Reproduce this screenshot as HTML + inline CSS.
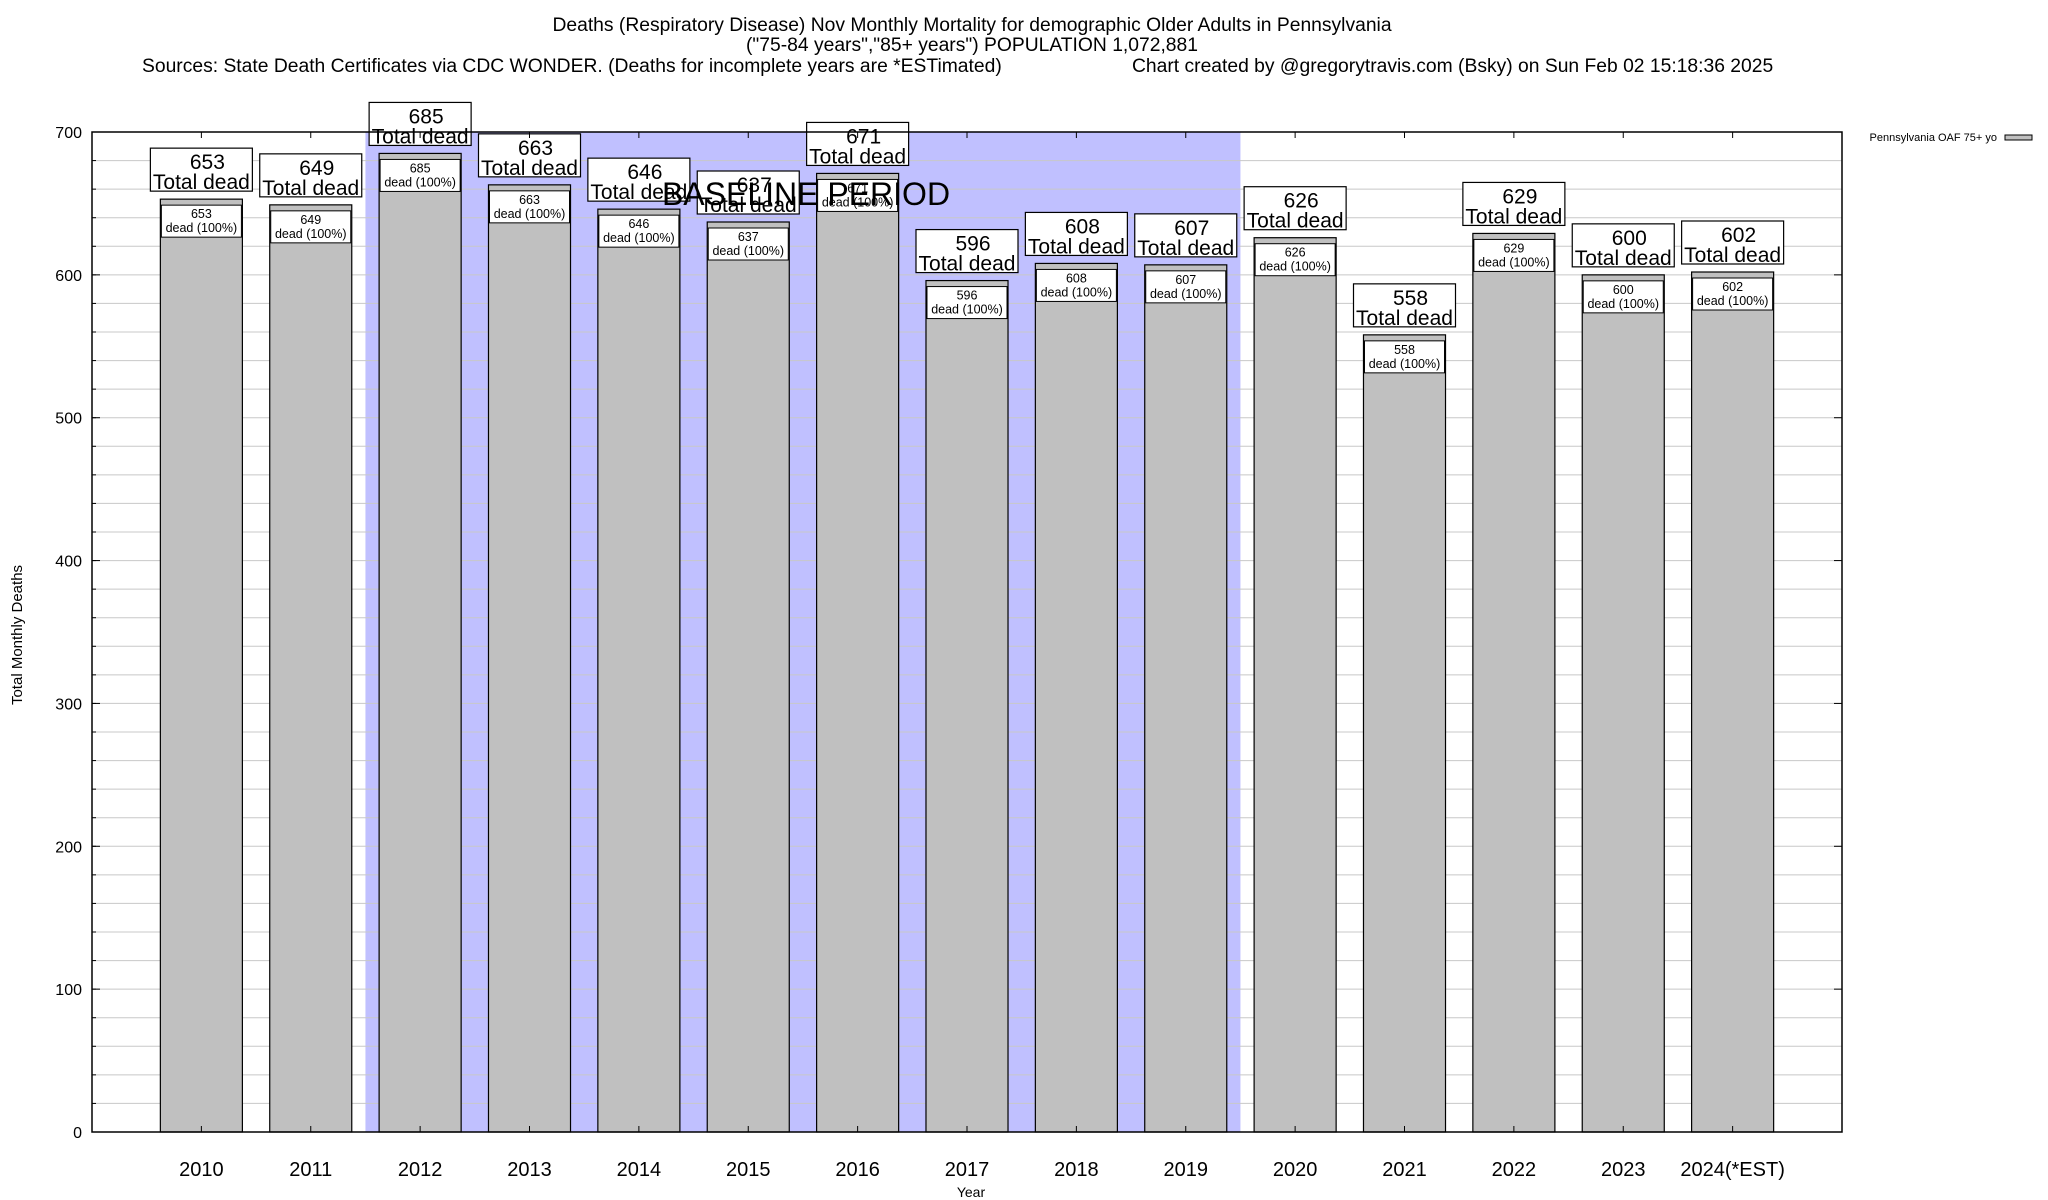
<!DOCTYPE html>
<html><head><meta charset="utf-8"><style>
html,body{margin:0;padding:0;background:#fff}
svg{display:block;font-family:"Liberation Sans",Arial,sans-serif}
</style></head><body>
<svg id="chart" width="2048" height="1200" viewBox="0 0 2048 1200" xmlns="http://www.w3.org/2000/svg">
<rect width="2048" height="1200" fill="#fff"/>
<g font-size="19.3" fill="#000">
<text x="972" y="31" text-anchor="middle">Deaths (Respiratory Disease) Nov Monthly Mortality for demographic Older Adults in Pennsylvania</text>
<text x="972" y="51" text-anchor="middle">("75-84 years","85+ years") POPULATION 1,072,881</text>
<text x="142" y="72">Sources: State Death Certificates via CDC WONDER. (Deaths for incomplete years are *ESTimated)</text>
<text x="1132" y="72">Chart created by @gregorytravis.com (Bsky) on Sun Feb 02 15:18:36 2025</text>
</g>
<g id="baseline"></g>
<g id="grid"></g>
<g id="bars"></g>
<g id="axes"></g>
<text x="806" y="205" font-size="32" text-anchor="middle">BASELINE PERIOD</text>
<text x="22" y="635" font-size="15" text-anchor="middle" transform="rotate(-90 22 635)">Total Monthly Deaths</text>
<text x="971" y="1197" font-size="14" text-anchor="middle">Year</text>
<g>
<text x="1997" y="141" font-size="11" text-anchor="end">Pennsylvania OAF 75+ yo</text>
<rect x="2005" y="135" width="27" height="5" fill="#c0c0c0" stroke="#000" stroke-width="1"/>
</g>
</svg>
<script>
const categories = ["2010","2011","2012","2013","2014","2015","2016","2017","2018","2019","2020","2021","2022","2023","2024(*EST)"];
const deaths = [653,649,685,663,646,637,671,596,608,607,626,558,629,600,602];
const yTicks = [0,100,200,300,400,500,600,700];
const baselineStart = 2, baselineEnd = 9;

const NS = "http://www.w3.org/2000/svg";
const L = 92, R = 1842, T = 132, B = 1132, YMAX = 700;
const slot = (R - L) / (categories.length + 1);
const xC = i => L + (i + 1) * slot;
const yS = v => B - v / YMAX * (B - T);
function mk(tag, attrs, parent, text) {
  const e = document.createElementNS(NS, tag);
  for (const k in attrs) e.setAttribute(k, attrs[k]);
  if (text !== undefined) e.textContent = text;
  parent.appendChild(e);
  return e;
}
const gB = document.getElementById('baseline');
const base = mk('rect', {x: xC(baselineStart) - slot/2, y: T, width: (baselineEnd - baselineStart + 1) * slot, height: B - T, fill: '#c0c0ff'}, gB);



const gG = document.getElementById('grid');
for (let v = 20; v < YMAX; v += 20) {
  const gl = mk('line', {x1: L, x2: R, y1: yS(v), y2: yS(v), stroke: '#c8c8c8', 'stroke-width': 1}, gG);
  
  
}

const gBar = document.getElementById('bars');
const bw = slot * 0.75;
deaths.forEach((v, i) => {
  const g = mk('g', {}, gBar);
  
  
  const x0 = xC(i) - bw/2, yt = yS(v);
  mk('rect', {x: x0, y: yt, width: bw, height: B - yt, fill: '#c0c0c0', stroke: '#000', 'stroke-width': 1.2}, g);
  const inner = mk('rect', {x: x0 + 1, y: yt + 6, width: bw - 2, height: 32, fill: '#fff', stroke: '#000', 'stroke-width': 1}, g);
  
  
  mk('text', {x: xC(i), y: yt + 19, 'font-size': 12.5, 'text-anchor': 'middle'}, g, String(v));
  mk('text', {x: xC(i), y: yt + 33, 'font-size': 12.5, 'text-anchor': 'middle'}, g, 'dead (100%)');
  const bx = xC(i) - 51, by = yt - 8 - 43;
  const box = mk('rect', {x: bx, y: by, width: 102, height: 43, fill: '#fff', stroke: '#000', 'stroke-width': 1.2}, g);
  
  
  mk('text', {x: xC(i) + 6, y: by + 21, 'font-size': 21, 'text-anchor': 'middle'}, g, String(v));
  mk('text', {x: xC(i), y: by + 41, 'font-size': 21, 'text-anchor': 'middle'}, g, 'Total dead');
  const xl = mk('text', {x: xC(i), y: 1176, 'font-size': 20, 'text-anchor': 'middle'}, gBar, categories[i]);
  
  
});

const gA = document.getElementById('axes');
const frame = mk('rect', {x: L, y: T, width: R - L, height: B - T, fill: 'none', stroke: '#000', 'stroke-width': 1.5}, gA);


yTicks.forEach(v => {
  const t = mk('text', {x: 82, y: yS(v) + 6, 'font-size': 16, 'text-anchor': 'end'}, gA, String(v));
  
  
  mk('line', {x1: L, x2: L + 8, y1: yS(v), y2: yS(v), stroke: '#000'}, gA);
  mk('line', {x1: R, x2: R - 8, y1: yS(v), y2: yS(v), stroke: '#000'}, gA);
});
for (let v = 20; v < YMAX; v += 20) {
  mk('line', {x1: L, x2: L + 4, y1: yS(v), y2: yS(v), stroke: '#000'}, gA);
}
categories.forEach((c, i) => {
  mk('line', {x1: xC(i), x2: xC(i), y1: T, y2: T + 6, stroke: '#000'}, gA);
  mk('line', {x1: xC(i), x2: xC(i), y1: B, y2: B - 6, stroke: '#000'}, gA);
});
</script>
</body></html>
